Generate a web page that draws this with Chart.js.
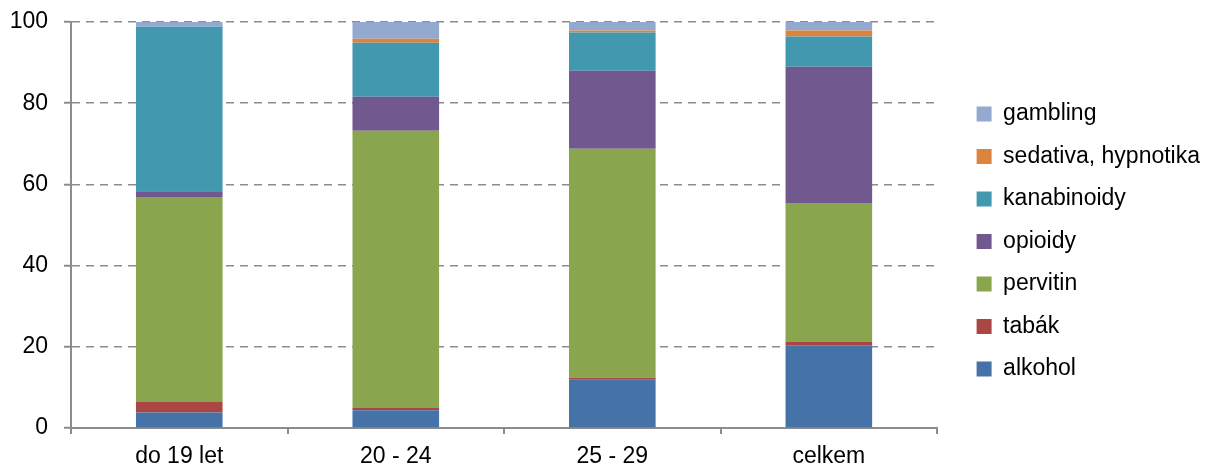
<!DOCTYPE html>
<html>
<head>
<meta charset="utf-8">
<script src="https://cdn.jsdelivr.net/npm/chart.js@4"></script>
<style>
  body { margin: 0; background: #fff; }
  #wrap { width: 1207px; height: 467px; }
</style>
</head>
<body>
<div id="wrap"><canvas id="skupinyChart" width="1207" height="467"></canvas></div>
<script>
const categories = ['do 19 let', '20 - 24', '25 - 29', 'celkem'];

const alkohol     = [3.8, 4.4, 11.9, 20.4];
const tabak       = [2.6, 0.5, 0.5, 0.9];
const pervitin    = [50.5, 68.3, 56.4, 34.1];
const opioidy     = [1.4, 8.4, 19.2, 33.6];
const kanabinoidy = [40.5, 13.3, 9.4, 7.4];
const sedativa    = [0, 1.0, 0.5, 1.5];
const gambling    = [1.2, 4.1, 2.1, 2.1];

const yTicks = [0, 20, 40, 60, 80, 100];

const tickFont = { family: 'Liberation Sans, Arial, sans-serif', size: 23 };
const legendFont = { family: 'Liberation Sans, Arial, sans-serif', size: 23 };
const gridGray = '#8c8c8c';

function serie(label, data, color) {
  return { label: label, data: data, backgroundColor: color, borderWidth: 0 };
}

// push the legend a bit away from the plot, like in the excel original
const legendShift = {
  id: 'legendShift',
  afterLayout(chart) {
    const lg = chart.legend;
    lg.left += 20; lg.right += 20;
    lg.top -= 3; lg.bottom -= 3;
  }
};

document.addEventListener("DOMContentLoaded", () => {
  const ctx = document.getElementById('skupinyChart');
  new Chart(ctx, {
    type: 'bar',
    data: {
      labels: categories,
      datasets: [
        serie('alkohol', alkohol, '#4572A7'),
        serie('tabák', tabak, '#AA4643'),
        serie('pervitin', pervitin, '#89A54E'),
        serie('opioidy', opioidy, '#71588F'),
        serie('kanabinoidy', kanabinoidy, '#4198AF'),
        serie('sedativa, hypnotika', sedativa, '#DB843D'),
        serie('gambling', gambling, '#93A9CF')
      ]
    },
    plugins: [legendShift],
    options: {
      responsive: false,
      animation: false,
      layout: { padding: { top: 22, right: 17, left: 0, bottom: 0 } },
      datasets: { bar: { categoryPercentage: 1, barPercentage: 0.4 } },
      plugins: {
        tooltip: { enabled: false },
        legend: {
          position: 'right',
          reverse: true,
          labels: {
            font: legendFont,
            color: '#000',
            boxWidth: 15,
            boxHeight: 15,
            padding: 19.5
          }
        }
      },
      scales: {
        x: {
          stacked: true,
          afterFit: (axis) => { axis.height = 39; },
          grid: { offset: true, drawOnChartArea: false, tickLength: 6, color: gridGray, lineWidth: 2 },
          border: { color: gridGray, width: 2 },
          ticks: { font: tickFont, color: '#000', padding: 9 }
        },
        y: {
          stacked: true,
          min: 0,
          max: 100,
          afterBuildTicks: (axis) => { axis.ticks = yTicks.map(v => ({ value: v })); },
          afterFit: (axis) => { axis.width = 71; axis.paddingTop = 0; axis.paddingBottom = 0; },
          grid: { color: gridGray, lineWidth: 1.5, tickLength: 7, tickColor: gridGray, tickWidth: 2 },
          border: { color: gridGray, width: 2, dash: [8, 6] },
          ticks: { font: tickFont, color: '#000', padding: 16 }
        }
      }
    }
  });
});
</script>
</body>
</html>
